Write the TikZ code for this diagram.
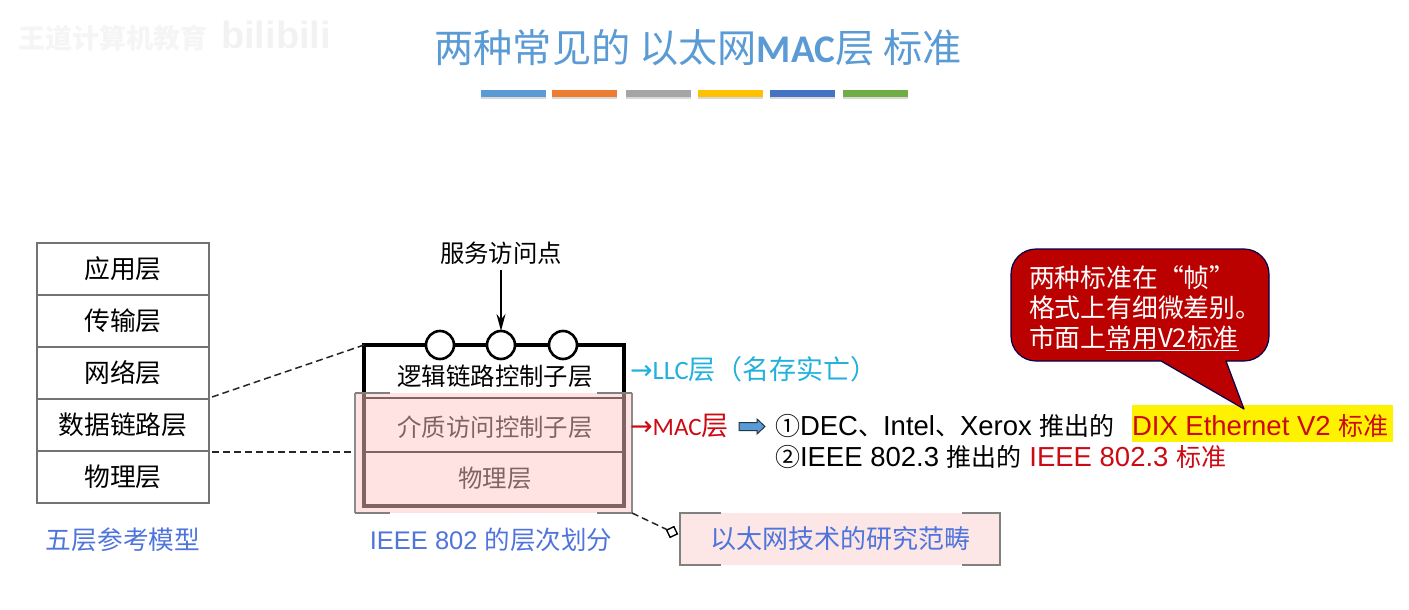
\documentclass[tikz,border=0pt]{standalone}
\usepackage{fontspec}
\setmainfont{Liberation Sans}
\newfontfamily\cjk{Noto Sans CJK SC}
\newfontfamily\carl{Carlito}
\newfontfamily\dejav{DejaVu Sans}
\newcommand{\cjs}[1]{{\cjk\fontsize{25}{25}\selectfont #1}}
\usetikzlibrary{arrows.meta,calc,shadows}
\definecolor{titleblue}{HTML}{5B9BD5}
\definecolor{lblue}{HTML}{4F74DC}
\definecolor{llc}{HTML}{22B0DC}
\definecolor{redt}{HTML}{CC0A14}
\definecolor{pinkf}{HTML}{FFC7C7}
\definecolor{pinks}{HTML}{FDE6E6}
\definecolor{callout}{HTML}{BB0000}
\tikzset{
  every node/.style={inner sep=0pt,outer sep=0pt},
  layerbox/.style={draw=black!55,line width=1.2pt,minimum width=172pt,minimum height=52pt,font=\cjk\fontsize{25.8}{26}\selectfont},
  sublayer/.style={font=\cjk\fontsize{24.4}{25}\selectfont},
  sap/.style={circle,draw=black,line width=2.6pt,fill=white,minimum size=28pt},
  capt/.style={text=lblue,font=\fontsize{25.5}{26}\selectfont},
  dashline/.style={line width=1.5pt,dash pattern=on 7pt off 4pt,black!85},
  bar/.style={minimum width=65pt,minimum height=7pt,drop shadow={shadow xshift=0pt,shadow yshift=-2pt,opacity=.3}},
  bracket/.style={draw=black!50,line width=2pt},
  std/.style={anchor=base west,font=\fontsize{27.5}{28}\selectfont},
  cn/.style={anchor=base west,text=white,font=\cjk\fontsize{25.8}{26}\selectfont},
  lab/.style={anchor=base west,font=\cjk\fontsize{27}{27}\selectfont},
}
\begin{document}
\begin{tikzpicture}[x=1pt,y=-1pt]
\useasboundingbox (0,0) rectangle (1409,610);
% watermark
\node[text=black!4,font=\cjk\bfseries\fontsize{27}{27}\selectfont] (wm) at (113,38) {王道计算机教育};
\node[text=black!5,font=\bfseries\fontsize{38}{38}\selectfont] (wb) at (276,35) {bilibili};
% title
\node[text=titleblue,anchor=base,font=\fontsize{39.2}{40}\selectfont] (title) at (698,63) {{\cjk 两种常见的 以太网}{\carl\bfseries MAC}{\cjk 层 标准}};
% bars
\foreach \n/\x/\c in {b1/513.5/5B9BD5,b2/584.5/ED7D31,b3/658/A5A5A5,b4/730/FFC000,b5/802/4472C4,b6/875.5/70AD47}{
  \definecolor{tmpc}{HTML}{\c}
  \node[fill=tmpc,bar] (\n) at (\x,93.5) {};
}
% five layers
\node[layerbox] (a1) at (123,269) {应用层};
\node[layerbox] (a2) at (123,321) {传输层};
\node[layerbox] (a3) at (123,373) {网络层};
\node[layerbox] (a4) at (123,425) {数据链路层};
\node[layerbox] (a5) at (123,477) {物理层};
\node[capt,font=\cjk\fontsize{25.7}{26}\selectfont] (c1) at (123,540) {五层参考模型};
% IEEE stack
\coordinate (tl) at (364,345);
\coordinate (tr) at (624,345);
\coordinate (bl) at (364,506);
\coordinate (br) at (624,506);
\draw[line width=3.2pt,line join=miter] (tl) -- (tr) -- (br) -- (bl) -- cycle;
\draw[line width=2.4pt] (364,398) -- (624,398);
\draw[line width=1.6pt] (364,452) -- (624,452);
\node[sap] (s1) at (440,345) {};
\node[sap] (s2) at (501,345) {};
\node[sap] (s3) at (563,345) {};
\node[sublayer] (sap) at (501,253) {服务访问点};
\draw[-{Stealth[length=17pt,width=9pt]},line width=1.6pt] (501,270) -- (s2);
\node[sublayer] (l1) at (495,376) {逻辑链路控制子层};
\node[sublayer] (l2) at (495,427) {介质访问控制子层};
\node[sublayer] (l3) at (495,478) {物理层};
\node[capt] (c2) at (491,540) {IEEE 802 {\cjk 的层次划分}};
% connectors from five-layer model
\draw[dashline] (a4.north east) ++(3,-2) -- (tl);
\coordinate (ovl) at (355,452);
\draw[dashline] (a5.north east) ++(3,1) -- (ovl);
% pink overlay
\fill[pinkf,opacity=.5] (355,393) rectangle (632,513);
\coordinate (ovb) at (632,513);
\draw[black!45,line width=1.4pt] (355,393) -- (355,513) (632,393) -- (632,513);
\draw[bracket] (355,393) -- (390,393) (597,393) -- (632,393) (355,513) -- (390,513) (597,513) -- (632,513);
% research box
\node[fill=pinks,minimum width=320pt,minimum height=52pt,text=lblue,font=\cjk\fontsize{26}{26}\selectfont] (res) at (840,539) {以太网技术的研究范畴};
\draw[bracket] (res.north west) ++(41,0) -- (res.north west) -- (res.south west) -- ++(41,0);
\draw[bracket] (res.north east) ++(-38,0) -- (res.north east) -- (res.south east) -- ++(-38,0);
\node[draw=black,line width=1.4pt,fill=white,minimum size=8pt,rotate=25] (dm) at (672,532) {};
\draw[dashline] (ovb) -- (dm);
% LLC and MAC labels
\node[lab,text=llc] (llc) at (630,379) {{\dejav →}{\carl\fontsize{26.5}{27}\selectfont LLC}层（名存实亡）};
\node[lab,text=redt] (mac) at (630,435) {{\dejav →}{\fontsize{25}{26}\selectfont\carl MAC}层};
% block arrow
\draw[fill=titleblue,draw=black!65!titleblue,line width=1pt] (739,422.5) -- (757,422.5) -- (757,419) -- (765,426.5) -- (757,434) -- (757,430.5) -- (739,430.5) -- cycle;
% standards
\node[std] (r1) at (775,435) {\cjs{①}DEC\cjs{、}Intel\cjs{、}Xerox \cjs{推出的}};
\node[std] (r2) at (775,466) {\cjs{②}IEEE 802.3 \cjs{推出的} \textcolor{redt}{IEEE 802.3 \cjs{标准}}};
\path[fill=yellow] (1132,405) rectangle (1393,442);
\node[std,text=redt] (r1b) at (1132,435) {DIX Ethernet V2 \cjs{标准}};
% callout
\coordinate (tip) at (1244,409);
\draw[fill=callout,draw=black!70!blue,line width=1.2pt,line join=round]
  (1161,361) -- (1036,361) arc[start angle=90,end angle=180,radius=25] -- (1011,274) arc[start angle=180,end angle=270,radius=25] -- (1244,249) arc[start angle=-90,end angle=0,radius=25] -- (1269,336) arc[start angle=0,end angle=90,radius=25] -- (1226,361) -- (tip) -- cycle;
\node[cn] (k1) at (1029,287) {两种标准在“帧”};
\node[cn] (k2) at (1029,317) {格式上有细微差别。};
\node[cn] (k3) at (1029,347) {市面上\underline{常用V2标准}};
\end{tikzpicture}
\end{document}
